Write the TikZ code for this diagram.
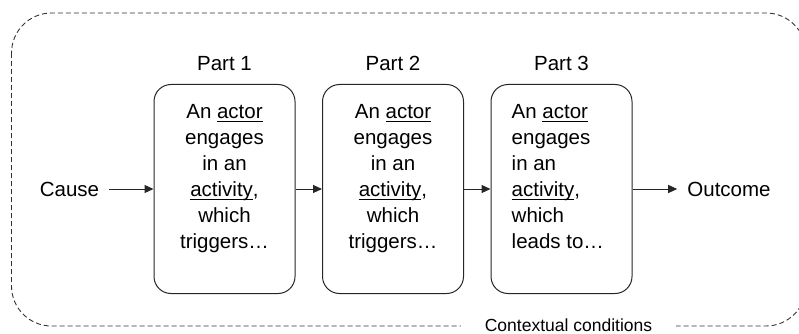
\documentclass[tikz,border=0pt]{standalone}
\usepackage{fontspec}
\setmainfont{Liberation Sans}
\usetikzlibrary{arrows.meta}
\usetikzlibrary{positioning}
\newsavebox{\uwordbox}
\newcommand{\uword}[1]{\sbox{\uwordbox}{#1}\rlap{\rule[-3.7pt]{\wd\uwordbox}{1.1pt}}\usebox{\uwordbox}}
\tikzset{flow/.style = {-{Triangle[length=9pt,width=8pt]}, line width=1pt, draw=black!85}}
\tikzset{
partbox/.style = {draw=black!85, line width=1pt, rounded corners=17pt,
                  minimum width=141pt, minimum height=209pt, inner sep=0pt},
boxtext/.style = {font=\fontsize{20.5}{26}\selectfont, inner sep=0pt},
endtext/.style = {font=\fontsize{20.5}{26}\selectfont, inner xsep=10pt, inner ysep=0pt},
context/.style = {draw=black!80, line width=0.9pt, dash pattern=on 5pt off 3pt, rounded corners=40pt},
contextlabel/.style = {font=\fontsize{17.5}{21}\selectfont, fill=white, inner xsep=24pt, inner ysep=0.5pt},
}

\begin{document}
\begin{tikzpicture}[x=1pt, y=-1pt]
			\useasboundingbox (0,0) rectangle (799,334);
			\clip (0,0) rectangle (799,334);
			% frame for the context
			\draw [context] (11.5,13) rectangle (806,326);
			\node [contextlabel] (ctx) at (568.5,325.5) {Contextual conditions};
			% the three parts
			\node [partbox] (1) at (224.5,189) {};
			\node [partbox] (2) at (393,189) {};
			\node [partbox] (3) at (561.5,189) {};
			\node [boxtext, above=13pt of 1] (l1) {Part 1};
			\node [boxtext, above=13pt of 2] (l2) {Part 2};
			\node [boxtext, above=13pt of 3] (l3) {Part 3};
			\node [boxtext, align=center, below=20pt of 1.north] (t1) {An \uword{actor}\\engages\\in an\\\uword{activity},\\which\\triggers…};
			\node [boxtext, align=center, below=20pt of 2.north] (t2) {An \uword{actor}\\engages\\in an\\\uword{activity},\\which\\triggers…};
			\node [boxtext, align=left, anchor=north west] (t3) at ([xshift=21pt, yshift=-20pt]3.north west) {An \uword{actor}\\engages\\in an\\\uword{activity},\\which\\leads to…};
			% cause and outcome
			\node [endtext] (c) at (69.5,189) {Cause};
			\node [endtext] (o) at (729,189) {Outcome};
			\draw [flow] (c) to (1);
			\draw [flow] (1) to (2);
			\draw [flow] (2) to (3);
			\draw [flow] (3) to (o);
		\end{tikzpicture}
\end{document}
